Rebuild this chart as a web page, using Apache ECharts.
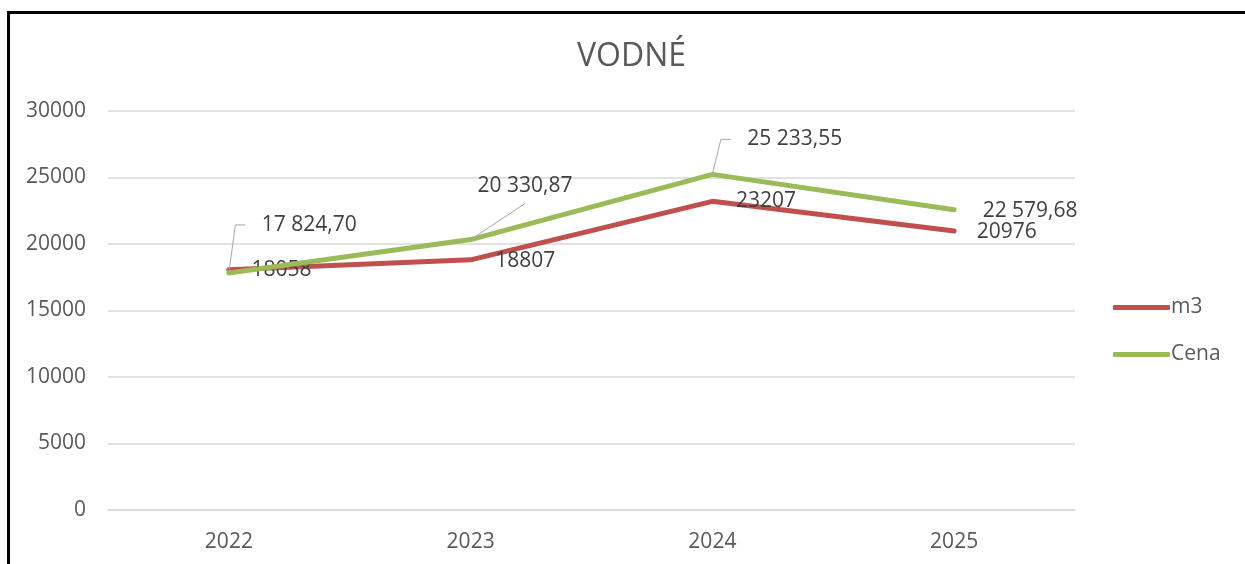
<!DOCTYPE html>
<html>
<head>
<meta charset="utf-8">
<title>VODNÉ</title>
<script src="https://cdn.jsdelivr.net/npm/echarts@6/dist/echarts.min.js"></script>
<style>
    html, body {
        margin: 0;
        padding: 0;
        background: #fff;
    }
    #chart {
        position: absolute;
        left: 0;
        top: 0;
        width: 1245px;
        height: 564px;
    }
    .frame {
        position: absolute;
        left: 7px;
        top: 11px;
        width: 1250px;
        height: 600px;
        border-left: 3px solid #000;
        border-top: 3px solid #000;
        pointer-events: none;
    }
</style>
</head>
<body>
<div id="chart"></div>
<div class="frame"></div>
<script>
    // data
    const years = ['2022', '2023', '2024', '2025'];
    const m3 = [18058, 18807, 23207, 20976];
    const cena = [17824.70, 20330.87, 25233.55, 22579.68];

    // label shifts from the point (px)
    const m3Shift = [[22, 0], [24, 1], [23, 0], [22, 1]];
    const cenaShift = [[16, -48], [-70, -54], [18, -35], [28, 1]];

    function czNumber(v) {
        let parts = v.toFixed(2).split('.');
        let whole = parts[0].replace(/\B(?=(\d{3})+(?!\d))/g, ' ');
        return whole + ',' + parts[1];
    }

    function spaces(n) {
        return new Array(n + 1).join(' ');
    }

    const font = '"Open Sans", sans-serif';
    const guide = { color: '#a6a6a6', width: 1 };

    // per point leader line look for the Cena series
    const cenaItems = cena.map(function (v, i) {
        if (i === 0 || i === 2) {
            return { value: v, labelLine: { show: true, length2: 10, lineStyle: guide } };
        }
        if (i === 1) {
            return { value: v, label: { lineHeight: 36 }, labelLine: { show: true, length2: 0, lineStyle: guide } };
        }
        return { value: v, labelLine: { show: false } };
    });

    let myChart = echarts.init(document.getElementById('chart'));
    myChart.setOption({
        animation: false,
        title: {
            text: 'VODNÉ',
            left: 572,
            top: 36,
            textStyle: {
                color: '#595959',
                fontSize: 32,
                fontWeight: 'normal',
                fontFamily: font
            }
        },
        grid: {
            left: 108,
            right: 170,
            top: 111,
            bottom: 54
        },
        legend: {
            orient: 'vertical',
            left: 1108,
            top: 292,
            itemWidth: 57,
            itemHeight: 5,
            itemGap: 26,
            icon: 'roundRect',
            data: ['m3', 'Cena'],
            textStyle: {
                color: '#595959',
                fontSize: 21,
                fontFamily: font,
                padding: [0, 0, 0, -4]
            }
        },
        xAxis: {
            type: 'category',
            data: years,
            boundaryGap: true,
            axisLine: {
                lineStyle: {
                    color: '#d9d9d9',
                    width: 1.5
                }
            },
            axisTick: { show: false },
            axisLabel: {
                color: '#595959',
                fontSize: 21,
                fontFamily: font,
                margin: 22
            }
        },
        yAxis: {
            type: 'value',
            min: 0,
            max: 30000,
            interval: 5000,
            axisLine: { show: false },
            axisTick: { show: false },
            splitLine: {
                lineStyle: {
                    color: '#d9d9d9',
                    width: 1.5
                }
            },
            axisLabel: {
                color: '#595959',
                fontSize: 21,
                fontFamily: font,
                margin: 22,
                formatter: function (v) {
                    return String(v);
                }
            }
        },
        series: [{
            name: 'm3',
            type: 'line',
            data: m3,
            symbol: 'circle',
            symbolSize: 1,
            showSymbol: true,
            color: '#c0504d',
            lineStyle: {
                color: '#c0504d',
                width: 5,
                cap: 'round'
            },
            label: {
                show: true,
                position: 'right',
                distance: 0,
                color: '#404040',
                fontSize: 21,
                fontFamily: font
            },
            labelLayout: function (p) {
                return { dx: m3Shift[p.dataIndex][0], dy: m3Shift[p.dataIndex][1] };
            },
            labelLine: { show: false },
            z: 2
        }, {
            name: 'Cena',
            type: 'line',
            data: cenaItems,
            symbol: 'circle',
            symbolSize: 1,
            showSymbol: true,
            color: '#9bbb59',
            lineStyle: {
                color: '#9bbb59',
                width: 5,
                cap: 'round'
            },
            label: {
                show: true,
                position: 'right',
                distance: 0,
                color: '#404040',
                fontSize: 21,
                fontFamily: font,
                formatter: function (p) {
                    let txt = czNumber(p.value);
                    // blank room so the leader line stops short of the text
                    if (p.dataIndex === 0 || p.dataIndex === 2) {
                        return spaces(3) + txt;
                    }
                    if (p.dataIndex === 1) {
                        return spaces(14) + txt + spaces(14);
                    }
                    return txt;
                }
            },
            labelLayout: function (p) {
                return { dx: cenaShift[p.dataIndex][0], dy: cenaShift[p.dataIndex][1] };
            },
            labelLine: {
                show: true,
                length2: 10,
                lineStyle: guide
            },
            z: 3
        }]
    });
</script>
</body>
</html>
